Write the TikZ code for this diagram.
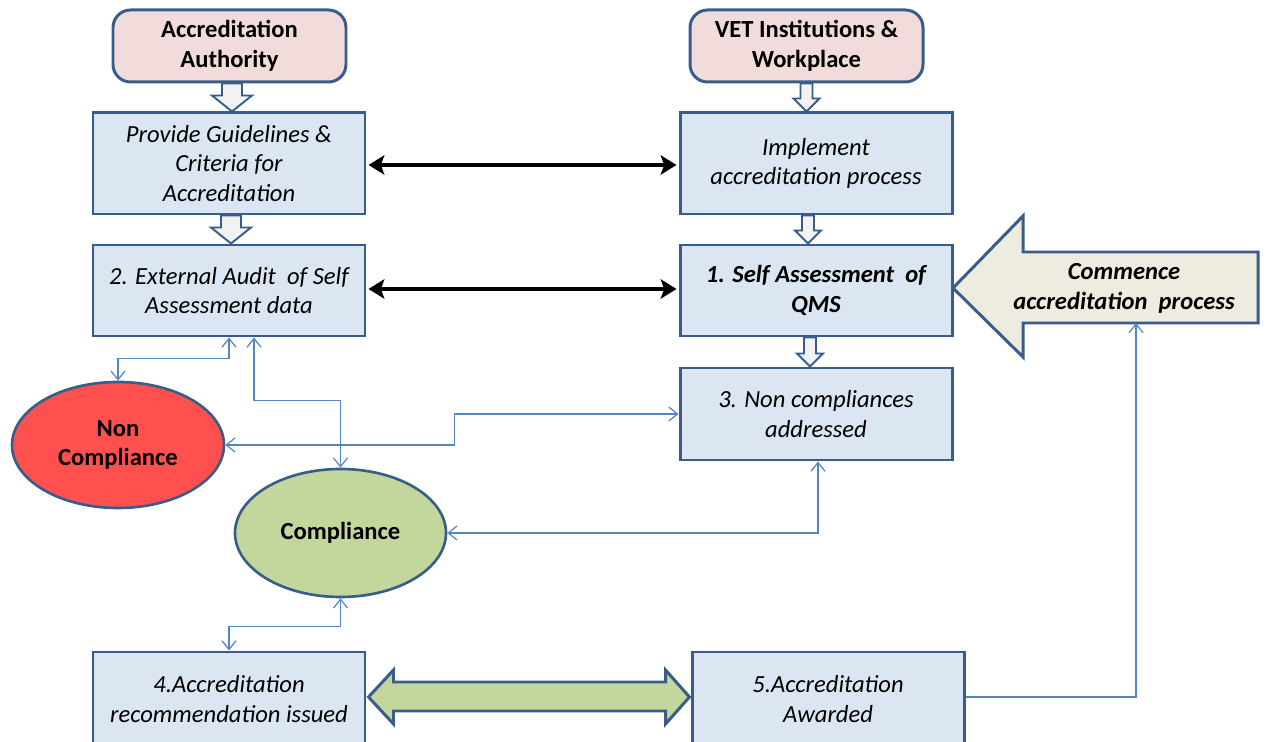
\documentclass[tikz,border=0pt]{standalone}
\usepackage{fontspec}
\setmainfont{Carlito}
\usetikzlibrary{arrows.meta,calc,shapes.geometric}
\definecolor{bord}{HTML}{385D8A}
\definecolor{boxfill}{HTML}{DCE6F2}
\definecolor{pinkfill}{HTML}{F2DCDB}
\definecolor{redfill}{HTML}{FF5050}
\definecolor{greenfill}{HTML}{C3D69B}
\definecolor{beige}{HTML}{EEECE1}
\definecolor{thinblue}{HTML}{5585C5}
\definecolor{blkfill}{HTML}{F2F2F2}
\newcommand\vblock[5]{\draw[blk] ($(#1)+(-#3,0)$) -- ($(#1)+(#3,0)$) -- ($(#2)+(#3,-#5)$) -- ($(#2)+(#4,-#5)$) -- (#2) -- ($(#2)+(-#4,-#5)$) -- ($(#2)+(-#3,-#5)$) -- cycle;}
\begin{document}
\begin{tikzpicture}[x=0.02cm,y=-0.02cm,
  txt/.style={font=\fontsize{14}{17}\selectfont},
  box/.style={txt, draw=bord, fill=boxfill, line width=1.7pt, inner sep=0pt, minimum width=272*0.02cm, align=center, font=\fontsize{14}{17}\selectfont\itshape},
  topbox/.style={txt, draw=bord, fill=pinkfill, line width=1.7pt, rounded corners=10pt, inner sep=0pt, minimum width=233*0.02cm, minimum height=72*0.02cm, align=center, font=\fontsize{14}{17}\selectfont\bfseries},
  oval/.style={ellipse, draw=bord, line width=1.5pt, inner sep=0pt, align=center, font=\fontsize{14}{17}\selectfont\bfseries},
  blk/.style={draw=bord, fill=blkfill, line width=1.1pt, line join=miter},
  thin/.style={draw=thinblue, line width=0.7pt, {Straight Barb[length=5pt,width=8pt]}-{Straight Barb[length=5pt,width=8pt]}},
  thinend/.style={draw=thinblue, line width=0.7pt, -{Straight Barb[length=5pt,width=8pt]}},
  black/.style={line width=2.2pt, {Stealth[length=9pt,width=11pt,inset=2pt]}-{Stealth[length=9pt,width=11pt,inset=2pt]}}
]
\useasboundingbox (0,0) rectangle (1267,742);

% top boxes
\node[topbox] (auth) at (229.5,46) {Accreditation\\Authority};
\node[topbox] (vet) at (806.5,46) {VET Institutions \&\\Workplace};

% process boxes
\node[box, minimum height=101*0.02cm] (guide) at (229,163.5) {Provide Guidelines \&\\Criteria for\\Accreditation};
\node[box, minimum height=101*0.02cm] (impl) at (816,163.5) {Implement\\accreditation process};
\node[box, minimum height=91*0.02cm] (ext) at (229,290.5) {2. External Audit\ \ of Self\\Assessment data};
\node[box, minimum height=91*0.02cm, font=\fontsize{14}{17}\selectfont\bfseries\itshape] (self) at (816,290.5) {1. Self Assessment\ \ of\\QMS};
\node[box, minimum height=92*0.02cm] (nc3) at (816,414) {3. Non compliances\\addressed};
\node[box, minimum height=94*0.02cm] (rec4) at (229,699) {4.Accreditation\\recommendation issued};
\node[box, minimum height=94*0.02cm] (aw5) at (828,699) {5.Accreditation\\Awarded};

% ellipses
\node[oval, fill=redfill, minimum width=212*0.02cm, minimum height=126*0.02cm] (noncomp) at (118,445) {Non\\Compliance};
\node[oval, fill=greenfill, minimum width=211*0.02cm, minimum height=128*0.02cm] (comp) at (340.5,533) {Compliance};

% commence big arrow
\draw[draw=bord, fill=beige, line width=1.7pt, line join=miter] (953,288) -- (1023,216) -- (1023,252) -- (1258,252) -- (1258,323) -- (1023,323) -- (1023,357) -- cycle;
\node[txt, font=\fontsize{14}{17}\selectfont\bfseries\itshape, align=center] (commence) at (1124,288) {Commence\\accreditation\ \ process};
\coordinate (cb) at (1136,323);

% hollow block arrows
\coordinate (a1t) at ($(auth.south)+(2.5,0)$);
\coordinate (a1b) at ($(guide.north)+(3,0)$);
\vblock{a1t}{a1b}{10}{20}{16}
\coordinate (a2t) at ($(guide.south)+(2,0)$);
\coordinate (a2b) at ($(ext.north)+(2,0)$);
\vblock{a2t}{a2b}{10}{20}{16}
\coordinate (a3t) at (vet.south);
\coordinate (a3b) at (vet.south |- impl.north);
\vblock{a3t}{a3b}{6}{13}{13}
\coordinate (a4t) at ($(impl.south)+(-8,0)$);
\coordinate (a4b) at ($(self.north)+(-8,0)$);
\vblock{a4t}{a4b}{6}{13}{13}
\coordinate (a5t) at ($(self.south)+(-6,0)$);
\coordinate (a5b) at ($(nc3.north)+(-6,0)$);
\vblock{a5t}{a5b}{6}{13}{13}

% black double arrows
\draw[black] ($(guide.east)+(2,1.5)$) -- ($(impl.west)+(-2,1.5)$);
\draw[black] ($(ext.east)+(2,-1.5)$) -- ($(self.west)+(-2,-1.5)$);

% green double arrow
\draw[draw=bord, fill=greenfill, line width=1.7pt, line join=miter]
  ($(rec4.east)+(2,-2)$) -- ($(rec4.east)+(27,-29)$) -- ($(rec4.east)+(27,-17)$) -- ($(aw5.west)+(-25,-17)$) -- ($(aw5.west)+(-25,-29)$) -- ($(aw5.west)+(-1,-2)$) -- ($(aw5.west)+(-25,25)$) -- ($(aw5.west)+(-25,12)$) -- ($(rec4.east)+(27,12)$) -- ($(rec4.east)+(27,25)$) -- cycle;

% thin connectors
\draw[thin] (ext.south) -- ++(0,21) -| (noncomp.north);
\draw[thin] ($(ext.south)+(25,0)$) -- ++(0,63) -| (comp.north);
\draw[thin] (noncomp.east) -- ++(229,0) |- (nc3.west);
\draw[thin] (comp.east) -| ($(nc3.south)+(2,0)$);
\draw[thin] (comp.south) -- ++(0,28) -| (rec4.north);
\draw[thinend] ($(aw5.east)+(0,-2)$) -| (cb);
\end{tikzpicture}
\end{document}
